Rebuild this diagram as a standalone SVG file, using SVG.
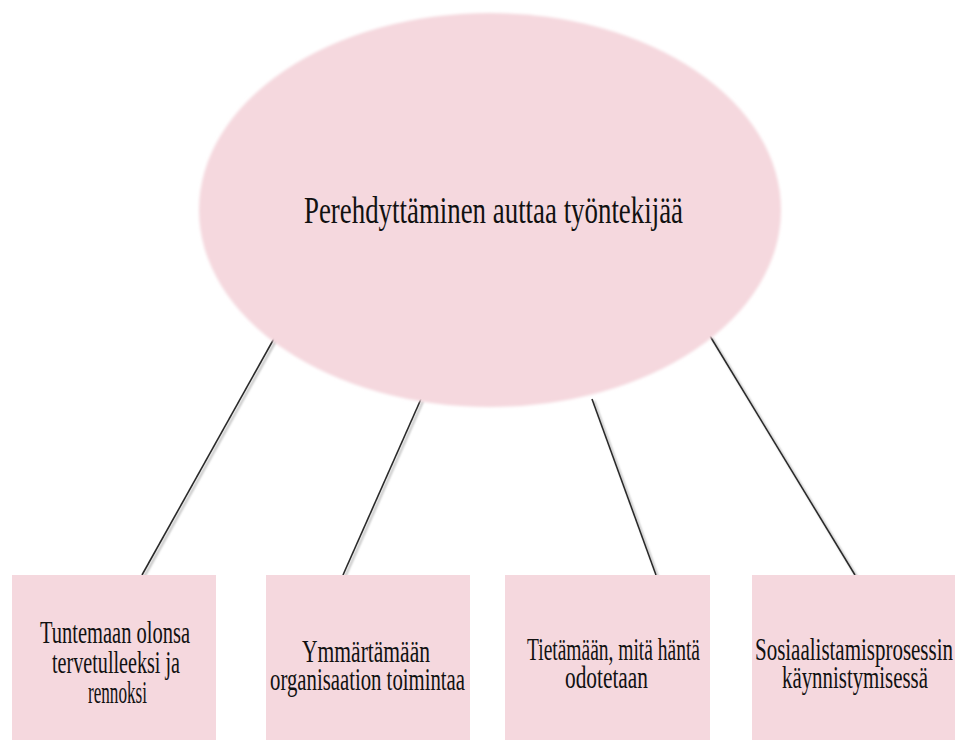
<svg xmlns="http://www.w3.org/2000/svg" width="957" height="740" viewBox="0 0 957 740">
<style>
.shape{fill:#f5d8de;}
.t{font-family:"Liberation Serif","Times New Roman",serif;fill:#111;}
.title{font-size:38px;}
.lbl{font-size:31px;}
.conn{stroke:#2a2a2a;stroke-width:1.6;fill:none;}
</style>
<defs>
<filter id="soft" x="-5%" y="-5%" width="110%" height="110%"><feGaussianBlur stdDeviation="1.5"/></filter>
<filter id="shadow" x="-20%" y="-20%" width="140%" height="140%"><feDropShadow dx="2" dy="2" stdDeviation="1.2" flood-color="#888" flood-opacity="0.7"/></filter>
</defs>
<rect width="957" height="740" fill="#fff"/>
<g id="connectors">
<line class="conn" filter="url(#shadow)" x1="276" y1="335" x2="142" y2="575"/>
<line class="conn" filter="url(#shadow)" x1="421" y1="399" x2="343" y2="575"/>
<line class="conn" filter="url(#shadow)" x1="592" y1="399" x2="656" y2="575"/>
<line class="conn" filter="url(#shadow)" x1="710" y1="336" x2="855" y2="575"/>
</g>
<g id="root">
<ellipse class="shape" filter="url(#soft)" cx="490" cy="210" rx="291" ry="197"/>
<text class="t title" x="304" y="223" textLength="379" lengthAdjust="spacingAndGlyphs">Perehdyttäminen auttaa työntekijää</text>
</g>
<g id="n1">
<rect class="shape" x="12" y="575" width="204" height="165"/>
<text class="t lbl" x="40" y="643" textLength="150" lengthAdjust="spacingAndGlyphs">Tuntemaan olonsa</text>
<text class="t lbl" x="52" y="673" textLength="128" lengthAdjust="spacingAndGlyphs">tervetulleeksi ja</text>
<text class="t lbl" x="88" y="703" textLength="59" lengthAdjust="spacingAndGlyphs">rennoksi</text>
</g>
<g id="n2">
<rect class="shape" x="266" y="575" width="204" height="165"/>
<text class="t lbl" x="302" y="662" textLength="128" lengthAdjust="spacingAndGlyphs">Ymmärtämään</text>
<text class="t lbl" x="270" y="690" textLength="195" lengthAdjust="spacingAndGlyphs">organisaation toimintaa</text>
</g>
<g id="n3">
<rect class="shape" x="505" y="575" width="205" height="165"/>
<text class="t lbl" x="527" y="660" textLength="173" lengthAdjust="spacingAndGlyphs">Tietämään, mitä häntä</text>
<text class="t lbl" x="565" y="688" textLength="83" lengthAdjust="spacingAndGlyphs">odotetaan</text>
</g>
<g id="n4">
<rect class="shape" x="752" y="575" width="203" height="165"/>
<text class="t lbl" x="755" y="660" textLength="198" lengthAdjust="spacingAndGlyphs">Sosiaalistamisprosessin</text>
<text class="t lbl" x="782" y="688" textLength="146" lengthAdjust="spacingAndGlyphs">käynnistymisessä</text>
</g>
</svg>
